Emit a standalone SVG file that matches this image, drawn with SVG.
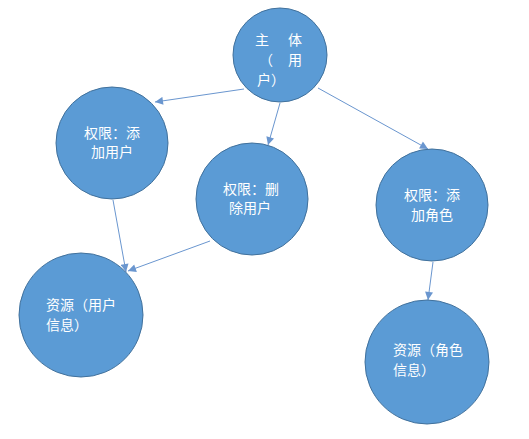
<svg xmlns="http://www.w3.org/2000/svg" width="529" height="439" viewBox="0 0 529 439">
<style>
.n{fill:#5b9bd5;stroke:#41719c;stroke-width:1}
.t{fill:#ffffff;font-family:"Microsoft YaHei","Noto Sans CJK SC",sans-serif;font-size:14px}
.e{stroke:#6a96cf;stroke-width:1;fill:none;marker-end:url(#ah)}
</style>
<defs>
<marker id="ah" viewBox="0 0 10 10" refX="10" refY="5" markerWidth="9" markerHeight="8" markerUnits="userSpaceOnUse" orient="auto">
<path d="M0,0 L10,5 L0,10 z" fill="#6a96cf"/>
</marker>
</defs>
<rect width="529" height="439" fill="#ffffff"/>
<g id="connectors">
<line class="e" x1="244" y1="89" x2="155" y2="102"/>
<line class="e" x1="280" y1="103" x2="268" y2="145"/>
<line class="e" x1="318" y1="88" x2="428" y2="149"/>
<line class="e" x1="113" y1="200" x2="126" y2="272"/>
<line class="e" x1="210" y1="241" x2="128" y2="271"/>
<line class="e" x1="433" y1="262" x2="428" y2="300"/>
</g>
<g id="subject">
<circle class="n" cx="280" cy="55" r="47"/>
<text class="t" x="262" y="45" text-anchor="middle">主</text>
<text class="t" x="295" y="45" text-anchor="middle">体</text>
<text class="t" x="266" y="65" text-anchor="middle">（</text>
<text class="t" x="295" y="65" text-anchor="middle">用</text>
<text class="t" x="257" y="85">户）</text>
</g>
<g id="perm-add-user">
<circle class="n" cx="112" cy="143" r="56"/>
<text class="t" x="112" y="138" text-anchor="middle">权限：添</text>
<text class="t" x="112" y="157" text-anchor="middle">加用户</text>
</g>
<g id="perm-del-user">
<circle class="n" cx="252" cy="199" r="56"/>
<text class="t" x="251" y="194" text-anchor="middle">权限：删</text>
<text class="t" x="250" y="213" text-anchor="middle">除用户</text>
</g>
<g id="res-user">
<circle class="n" cx="81" cy="315" r="62"/>
<text class="t" x="46" y="310">资源（用户</text>
<text class="t" x="46" y="330">信息）</text>
</g>
<g id="perm-add-role">
<circle class="n" cx="432" cy="205" r="56"/>
<text class="t" x="432" y="200" text-anchor="middle">权限：添</text>
<text class="t" x="432" y="220" text-anchor="middle">加角色</text>
</g>
<g id="res-role">
<circle class="n" cx="427" cy="362" r="62"/>
<text class="t" x="393" y="355">资源（角色</text>
<text class="t" x="393" y="375">信息）</text>
</g>
</svg>
